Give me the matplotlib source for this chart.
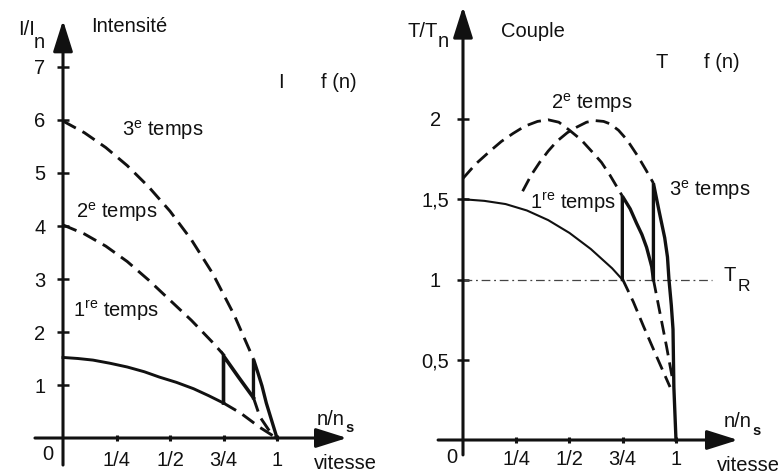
import matplotlib
matplotlib.use("Agg")
import matplotlib.pyplot as plt

plt.rcParams["font.family"] = ["Liberation Sans", "DejaVu Sans"]
plt.rcParams["mathtext.fontset"] = "custom"
plt.rcParams["mathtext.rm"] = "Liberation Sans"
plt.rcParams["mathtext.it"] = "Liberation Sans:italic"
plt.rcParams["mathtext.bf"] = "Liberation Sans:bold"

FS = 14.5
INK = "#111111"

# ---------------- Intensité I/In = f(n) ----------------
# speed ticks (fraction of synchronous speed)
speed_ticks = [0.25, 0.5, 0.75, 1.0]
speed_labels = ["1/4", "1/2", "3/4", "1"]
current_ticks = [1, 2, 3, 4, 5, 6, 7]

# solid operating path (1st step, then 2nd, then 3rd)
i_step1_n = [0.0, 0.07, 0.14, 0.22, 0.30, 0.38, 0.45, 0.53, 0.61, 0.68, 0.75]
i_step1_v = [1.52, 1.50, 1.47, 1.41, 1.34, 1.25, 1.15, 1.05, 0.93, 0.80, 0.66]
i_step2_n = [0.75, 0.75, 0.82, 0.89]
i_step2_v = [0.66, 1.55, 1.15, 0.76]
i_step3_n = [0.89, 0.89, 0.91, 0.93, 0.95, 0.975, 1.0]
i_step3_v = [0.76, 1.49, 1.24, 0.98, 0.66, 0.33, 0.0]

# dashed characteristics outside the operating path
i_dash1_n = [0.75, 0.83, 0.92, 0.99]
i_dash1_v = [0.66, 0.47, 0.20, 0.02]
i_dash2_n = [0.0, 0.1, 0.2, 0.3, 0.4, 0.5, 0.6, 0.7, 0.755]
i_dash2_v = [4.02, 3.85, 3.62, 3.33, 2.98, 2.60, 2.22, 1.80, 1.55]
i_dash2b_n = [0.89, 0.92, 0.97, 0.99]
i_dash2b_v = [0.76, 0.40, 0.10, 0.03]
i_dash3_n = [0.0, 0.1, 0.2, 0.3, 0.4, 0.5, 0.6, 0.7, 0.8, 0.89]
i_dash3_v = [5.98, 5.76, 5.48, 5.14, 4.74, 4.28, 3.74, 3.10, 2.32, 1.49]

# ---------------- Couple T/Tn = f(n) ----------------
torque_ticks = [0.5, 1.0, 1.5, 2.0]
torque_labels = ["0,5", "1", "1,5", "2"]
load_torque = 1.0

t_step1_n = [0.0, 0.1, 0.2, 0.3, 0.4, 0.5, 0.6, 0.7, 0.748]
t_step1_v = [1.50, 1.49, 1.47, 1.43, 1.37, 1.29, 1.19, 1.07, 1.00]
t_step2_n = [0.748, 0.748, 0.785, 0.815, 0.84, 0.862, 0.886, 0.894]
t_step2_v = [1.00, 1.52, 1.44, 1.35, 1.28, 1.20, 1.08, 1.00]
t_step3_n = [0.894, 0.894, 0.92, 0.947, 0.96, 0.967, 0.978, 0.986, 0.99, 1.0]
t_step3_v = [1.00, 1.60, 1.43, 1.26, 1.14, 1.00, 0.84, 0.69, 0.33, 0.0]

t_dash1_n = [0.75, 0.80, 0.847, 0.909, 0.972]
t_dash1_v = [1.00, 0.86, 0.71, 0.52, 0.33]
t_dash2_n = [0.0, 0.06, 0.127, 0.18, 0.235, 0.29, 0.35, 0.40, 0.45, 0.50,
             0.555, 0.61, 0.65, 0.69, 0.748]
t_dash2_v = [1.63, 1.72, 1.80, 1.86, 1.91, 1.955, 1.985, 1.995, 1.98, 1.93,
             1.87, 1.79, 1.73, 1.65, 1.52]
t_dash2b_n = [0.894, 0.925, 0.956, 0.987]
t_dash2b_v = [1.00, 0.79, 0.58, 0.355]
t_dash3_n = [0.28, 0.32, 0.36, 0.40, 0.44, 0.49, 0.535, 0.58, 0.62, 0.66,
             0.69, 0.73, 0.77, 0.82, 0.86, 0.894]
t_dash3_v = [1.55, 1.65, 1.73, 1.80, 1.86, 1.915, 1.95, 1.98, 1.99, 1.985,
             1.97, 1.93, 1.87, 1.77, 1.68, 1.60]

fig = plt.figure(figsize=(7.81, 4.74), dpi=100)
fig.patch.set_facecolor("white")
ax1 = fig.add_axes([0, 0, 390 / 781, 1])
ax2 = fig.add_axes([390 / 781, 0, 391 / 781, 1])

ax1.set_xlim(-0.2944, 1.5280)
ax1.set_ylim(-0.679, 8.264)
ax2.set_xlim(-0.3427, 1.4930)
ax2.set_ylim(-0.2118, 2.7414)

DASH = (0, (5, 2.6))


def setup_axes(ax, xt, xl, yt, yl, y_tip, y_start, x_tip, x_start, ypad, xpad, ycenter):
    ax.set_facecolor("none")
    for s in ("top", "right"):
        ax.spines[s].set_visible(False)
    ax.spines["left"].set_position(("data", 0))
    ax.spines["bottom"].set_position(("data", 0))
    ax.spines["left"].set_visible(False)
    ax.spines["bottom"].set_visible(False)
    ax.set_xticks(xt)
    ax.set_xticklabels(xl)
    ax.set_yticks(yt)
    ax.set_yticklabels(yl)
    ax.tick_params(axis="y", direction="inout", length=8, width=1.8,
                   pad=ypad, labelsize=FS, colors=INK)
    ax.tick_params(axis="x", direction="inout", length=5, width=2.2,
                   pad=xpad, labelsize=FS, colors=INK)
    if ycenter:
        for lab in ax.get_yticklabels():
            lab.set_horizontalalignment("center")
    arrow = dict(arrowstyle="-|>,head_length=0.95,head_width=0.3",
                 mutation_scale=20, lw=2.2, color=INK,
                 shrinkA=0, shrinkB=0)
    ax.annotate("", xy=(0, y_tip), xytext=(0, y_start), arrowprops=arrow,
                annotation_clip=False)
    ax.annotate("", xy=(x_tip, 0), xytext=(x_start, 0), arrowprops=arrow,
                annotation_clip=False)


setup_axes(ax1, speed_ticks, speed_labels, current_ticks,
           [str(v) for v in current_ticks],
           y_tip=7.88, y_start=-0.51, x_tip=1.327, x_start=-0.131,
           ypad=8.6, xpad=6.5, ycenter=False)
setup_axes(ax2, speed_ticks, speed_labels, torque_ticks, torque_labels,
           y_tip=2.70, y_start=-0.093, x_tip=1.291, x_start=-0.117,
           ypad=15.8, xpad=4.5, ycenter=True)

# ---- left panel curves
for xs, ys in [(i_dash1_n, i_dash1_v), (i_dash2_n, i_dash2_v),
               (i_dash2b_n, i_dash2b_v), (i_dash3_n, i_dash3_v)]:
    ax1.plot(xs, ys, ls=DASH, lw=2.1, color=INK)
ax1.plot(i_step1_n, i_step1_v, lw=2.1, color=INK, solid_joinstyle="miter")
ax1.plot(i_step2_n, i_step2_v, lw=2.6, color=INK, solid_joinstyle="miter")
ax1.plot(i_step3_n, i_step3_v, lw=2.4, color=INK, solid_joinstyle="miter")

# ---- right panel curves
ax2.plot([0, 1.169], [load_torque, load_torque], ls=(0, (7, 3, 1.5, 3)),
         lw=0.9, color="#444444")
for xs, ys in [(t_dash1_n, t_dash1_v), (t_dash2_n, t_dash2_v),
               (t_dash2b_n, t_dash2b_v), (t_dash3_n, t_dash3_v)]:
    ax2.plot(xs, ys, ls=DASH, lw=2.0, color=INK)
ax2.plot(t_step1_n, t_step1_v, lw=1.5, color=INK)
ax2.plot(t_step2_n, t_step2_v, lw=2.4, color=INK, solid_joinstyle="miter")
ax2.plot(t_step3_n, t_step3_v, lw=2.4, color=INK, solid_joinstyle="miter")

tk = dict(fontsize=FS, color=INK)
sub = dict(fontsize=FS, color=INK)
subs = dict(fontsize=10.5, color=INK, fontweight="bold")

# ---- left panel text
ax1.text(-0.131, 7.70, "I/I", ha="right", va="center", **tk)
ax1.text(-0.135, 7.47, "n", ha="left", va="center", **sub)
ax1.text(0.308, 7.755, "Intensité", ha="center", va="center", **tk)
ax1.text(1.019, 6.70, "I", ha="center", va="center", **tk)
ax1.text(1.290, 6.70, "f (n)", ha="center", va="center", **tk)
ax1.text(0.467, 5.81, r"3$^{\mathrm{e}}$ temps", ha="center", va="center", **tk)
ax1.text(0.252, 4.26, r"2$^{\mathrm{e}}$ temps", ha="center", va="center", **tk)
ax1.text(0.248, 2.40, r"1$^{\mathrm{re}}$ temps", ha="center", va="center", **tk)
ax1.text(-0.070, -0.32, "0", ha="center", va="center", **tk)
ax1.text(1.318, 0.34, "n/n", ha="right", va="center", **tk)
ax1.text(1.322, 0.19, "s", ha="left", va="center", **subs)
ax1.text(1.318, -0.49, "vitesse", ha="center", va="center", **tk)

# ---- right panel text
ax2.text(-0.117, 2.548, "T/T", ha="right", va="center", **tk)
ax2.text(-0.117, 2.480, "n", ha="left", va="center", **sub)
ax2.text(0.329, 2.548, "Couple", ha="center", va="center", **tk)
ax2.text(0.934, 2.355, "T", ha="center", va="center", **tk)
ax2.text(1.216, 2.349, "f (n)", ha="center", va="center", **tk)
ax2.text(0.606, 2.10, r"2$^{\mathrm{e}}$ temps", ha="center", va="center", **tk)
ax2.text(1.160, 1.558, r"3$^{\mathrm{e}}$ temps", ha="center", va="center", **tk)
ax2.text(0.516, 1.477, r"1$^{\mathrm{re}}$ temps", ha="center", va="center", **tk)
ax2.text(1.221, 1.028, "T", ha="left", va="center", **tk)
ax2.text(1.289, 0.955, "R", ha="left", va="center", fontsize=12.5, color=INK)
ax2.text(-0.052, -0.106, "0", ha="center", va="center", **tk)
ax2.text(1.357, 0.118, "n/n", ha="right", va="center", **tk)
ax2.text(1.360, 0.056, "s", ha="left", va="center", **subs)
ax2.text(1.486, -0.160, "vitesse", ha="right", va="center", **tk)

fig.savefig("out.png", dpi=100, facecolor="white")
